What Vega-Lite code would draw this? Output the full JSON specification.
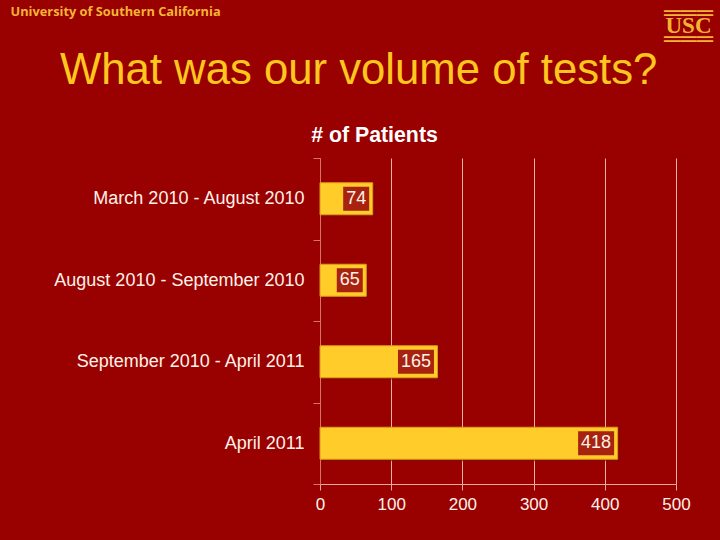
{
  "$schema": "https://vega.github.io/schema/vega-lite/v6.json",
  "width": 356,
  "height": 326,
  "padding": {"left": 320, "top": 158, "right": 44, "bottom": 56},
  "autosize": "none",
  "background": "#990000",
  "title": {
    "text": "What was our volume of tests?",
    "anchor": "start",
    "align": "left",
    "baseline": "alphabetic",
    "dx": 50,
    "dy": 131,
    "font": "Liberation Sans",
    "fontSize": 43.7,
    "fontWeight": "normal",
    "color": "#FFC61E"
  },
  "config": {
    "view": {"stroke": null},
    "axis": {"labelFont": "Liberation Sans", "titleFont": "Liberation Sans"}
  },
  "data": {
    "values": [
      {"period": "March 2010 - August 2010", "patients": 74},
      {"period": "August 2010 - September 2010", "patients": 65},
      {"period": "September 2010 - April 2011", "patients": 165},
      {"period": "April 2011", "patients": 418}
    ]
  },
  "resolve": {"axis": {"x": "independent"}},
  "layer": [
    {
      "mark": {"type": "bar", "size": 32, "yOffset": 2, "xOffset": 2, "fill": "#7A0A00", "opacity": 0.6},
      "encoding": {
        "y": {
          "field": "period",
          "type": "nominal",
          "sort": null,
          "scale": {"padding": 0},
          "axis": {
            "title": "University of Southern California",
            "titleFont": "Open Sans",
            "titleFontSize": 12.8,
            "titleFontWeight": "bold",
            "titleColor": "#F5B335",
            "titleAngle": 0,
            "titleAlign": "left",
            "titleBaseline": "alphabetic",
            "titleX": -310,
            "titleY": -143,
            "labelColor": "#FFF2E8",
            "labelFontSize": 18,
            "labelPadding": 9,
            "labelLimit": 300,
            "tickBand": "extent",
            "tickSize": 7,
            "tickColor": "#D9706A",
            "domainColor": "#D9706A",
            "grid": false
          }
        },
        "x": {"field": "patients", "type": "quantitative", "scale": {"domain": [0, 500]}, "axis": null}
      }
    },
    {
      "mark": {"type": "bar", "size": 32, "fill": "#FFCC29", "stroke": "#E09A18", "strokeWidth": 1},
      "encoding": {
        "y": {"field": "period", "type": "nominal", "sort": null},
        "x": {
          "field": "patients",
          "type": "quantitative",
          "scale": {"domain": [0, 500]},
          "axis": {
            "orient": "bottom",
            "values": [0, 100, 200, 300, 400, 500],
            "title": ["═══", "USC", "═══"],
            "titleFont": "Liberation Serif",
            "titleFontSize": 23,
            "titleFontWeight": "bold",
            "titleColor": "#F5B335",
            "titleLineHeight": 13,
            "titleAlign": "center",
            "titleBaseline": "alphabetic",
            "titleX": 368,
            "titleY": -465,
            "labelColor": "#FFF2E8",
            "labelFontSize": 17,
            "labelPadding": 6,
            "labelFlush": false,
            "tickSize": 6,
            "tickColor": "#E8A8A0",
            "domainColor": "#E8A8A0",
            "grid": true,
            "gridColor": "#EDB0A8",
            "gridWidth": 1
          }
        }
      }
    },
    {
      "transform": [{"filter": "datum.patients < 100"}],
      "mark": {"type": "rect", "width": 26, "height": 24, "xOffset": -16.5, "fill": "#A82210"},
      "encoding": {
        "y": {"field": "period", "type": "nominal", "sort": null},
        "x": {
          "field": "patients",
          "type": "quantitative",
          "axis": {
            "orient": "top",
            "title": "# of Patients",
            "titleFontSize": 21.3,
            "titleFontWeight": "bold",
            "titleColor": "#FFFFFF",
            "titleX": 54,
            "titleY": -17,
            "titleBaseline": "alphabetic",
            "labels": false,
            "ticks": false,
            "domain": false,
            "grid": false
          }
        }
      }
    },
    {
      "transform": [{"filter": "datum.patients >= 100"}],
      "mark": {"type": "rect", "width": 36, "height": 24, "xOffset": -21.5, "fill": "#A82210"},
      "encoding": {
        "y": {"field": "period", "type": "nominal", "sort": null},
        "x": {"field": "patients", "type": "quantitative", "axis": null}
      }
    },
    {
      "transform": [{"filter": "datum.patients < 100"}],
      "mark": {"type": "text", "xOffset": -16.5, "font": "Liberation Sans", "fontSize": 18, "fill": "#FFF2E8"},
      "encoding": {
        "y": {"field": "period", "type": "nominal", "sort": null},
        "x": {"field": "patients", "type": "quantitative", "axis": null},
        "text": {"field": "patients", "type": "quantitative"}
      }
    },
    {
      "transform": [{"filter": "datum.patients >= 100"}],
      "mark": {"type": "text", "xOffset": -21.5, "font": "Liberation Sans", "fontSize": 18, "fill": "#FFF2E8"},
      "encoding": {
        "y": {"field": "period", "type": "nominal", "sort": null},
        "x": {"field": "patients", "type": "quantitative", "axis": null},
        "text": {"field": "patients", "type": "quantitative"}
      }
    }
  ]
}
